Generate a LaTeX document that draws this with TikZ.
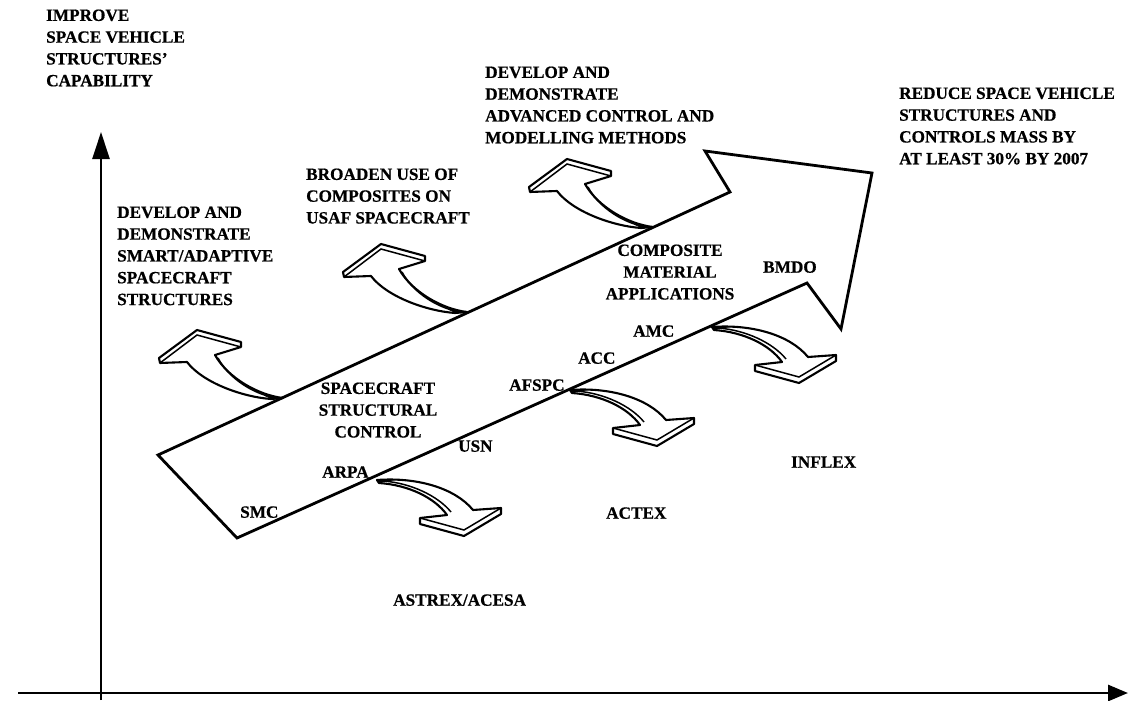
\documentclass[tikz,border=0pt]{standalone}
\usepackage{fontspec}
\setmainfont{Liberation Serif}[BoldFeatures={FakeBold=0.6}]
\usetikzlibrary{arrows.meta}
\tikzset{
  lbl/.style={font=\fontsize{17.2}{21.8}\selectfont\bfseries, inner sep=0pt, align=left, anchor=north west},
  lblc/.style={lbl, align=center, anchor=north},
  lbs/.style={font=\fontsize{17.2}{21.8}\selectfont\bfseries, inner sep=0pt, anchor=base west},
  bigarrow/.style={draw, line width=2.8pt, line join=miter},
  axisline/.style={line width=2.8pt},
  curl/.style={draw, line width=2.1pt, fill=white, line join=round},
  curlin/.style={line width=1.5pt},
  uparrow/.pic={
    \draw[curl] (0,0) .. controls (-25,-3) and (-55,-20) .. (-68,-43) -- (-42,-51) -- (-42,-56) -- (-86,-68) -- (-124,-40) -- (-123,-35) -- (-96,-36) .. controls (-80,-15) and (-40,-1) .. (-12,1) -- cycle;
    \draw[curlin] (-123,-35) -- (-86,-63) -- (-42,-51);
    \draw[curlin] (-65,-40) .. controls (-54,-19) and (-28,-3) .. (-6,0);
    \fill (0,0) -- (-18,-2) -- (-12,1) -- cycle;
  },
  downarrow/.pic={
    \draw[curl] (0,0) .. controls (40,-3) and (78,8) .. (96,30) -- (124,28) -- (124,34) -- (87,56) -- (43,44) -- (43,38) -- (70,35) .. controls (58,18) and (32,5) .. (2,3) -- cycle;
    \draw[curlin] (43,38) -- (87,50) -- (124,28);
    \draw[curlin] (74,32) .. controls (61,16) and (34,3) .. (6,1);
    \fill (0,0) -- (18,0) -- (2,3) -- cycle;
  }
}
\begin{document}
\begin{tikzpicture}[x=1pt,y=-1pt]
\useasboundingbox (0,0) rectangle (1128,701);
% axes
\coordinate (vbot) at (101,700);
\coordinate (vtop) at (101,132);
\coordinate (hleft) at (18,693);
\coordinate (hright) at (1128,693);
\draw[axisline,-{Triangle[length=27pt,width=17pt]}] (vbot) -- (vtop);
\draw[axisline,-{Triangle[length=20pt,width=16pt]}] (hleft) -- (hright);
% big arrow
\coordinate (tailtop) at (158,455);
\coordinate (notchtop) at (730,192);
\coordinate (headtop) at (705,151);
\coordinate (headtip) at (872,173);
\coordinate (headbot) at (841,329);
\coordinate (notchbot) at (807,283);
\coordinate (tailbot) at (237,538);
\draw[bigarrow] (tailtop) -- (notchtop) -- (headtop) -- (headtip) -- (headbot) -- (notchbot) -- (tailbot) -- cycle;
% curled arrows
\coordinate (u1) at (283,398);
\coordinate (u2) at (467,312);
\coordinate (u3) at (653,227);
\coordinate (d1) at (377,480);
\coordinate (d2) at (570,390);
\coordinate (d3) at (712,327);
\pic at (u1) {uparrow};
\pic at (u2) {uparrow};
\pic at (u3) {uparrow};
\pic at (d1) {downarrow};
\pic at (d2) {downarrow};
\pic at (d3) {downarrow};
% texts
\node[lbl] (improve) at (46,9.3) {IMPROVE\\SPACE VEHICLE\\STRUCTURES'\\CAPABILITY};
\node[lbl] (smart) at (117,206.3) {DEVELOP AND\\DEMONSTRATE\\SMART/ADAPTIVE\\SPACECRAFT\\STRUCTURES};
\node[lbl] (broaden) at (306,168.3) {BROADEN USE OF\\COMPOSITES ON\\USAF SPACECRAFT};
\node[lbl] (advctl) at (485,66.3) {DEVELOP AND\\DEMONSTRATE\\ADVANCED CONTROL AND\\MODELLING METHODS};
\node[lbl] (goal) at (899,87.3) {REDUCE SPACE VEHICLE\\STRUCTURES AND\\CONTROLS MASS BY\\AT LEAST 30\% BY 2007};
\node[lblc] (ssc) at (378,382.3) {SPACECRAFT\\STRUCTURAL\\CONTROL};
\node[lblc] (cma) at (670,244.3) {COMPOSITE\\MATERIAL\\APPLICATIONS};
\node[lbs] (smc) at (240,517.7) {SMC};
\node[lbs] (arpa) at (322,477.7) {ARPA};
\node[lbs] (usn) at (458,451.7) {USN};
\node[lbs] (afspc) at (509,390.7) {AFSPC};
\node[lbs] (acc) at (578,363.7) {ACC};
\node[lbs] (amc) at (633,336.7) {AMC};
\node[lbs] (bmdo) at (763,272.7) {BMDO};
\node[lbs] (astrex) at (393,605.7) {ASTREX/ACESA};
\node[lbs] (actex) at (606,518.7) {ACTEX};
\node[lbs] (inflex) at (791,467.7) {INFLEX};
\end{tikzpicture}
\end{document}
